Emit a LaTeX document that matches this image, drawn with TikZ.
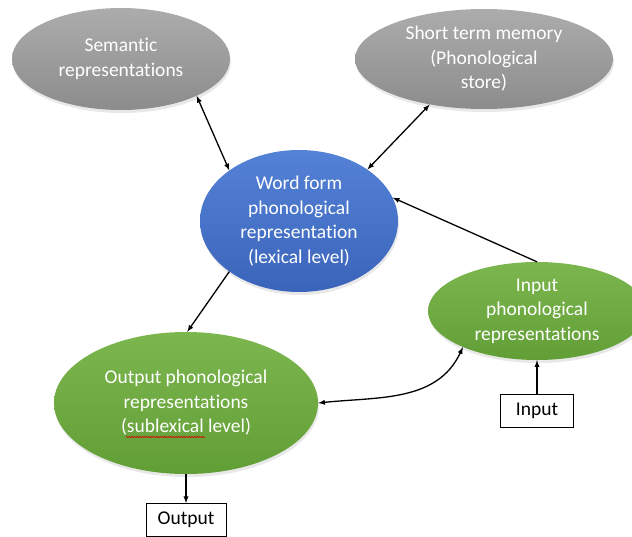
\documentclass[tikz,border=0pt]{standalone}
\usepackage{fontspec}
\setmainfont{Carlito}[Ligatures=NoCommon]
\usetikzlibrary{arrows,shapes.geometric,shadows,decorations.pathmorphing}
\definecolor{el_grey_top}{RGB}{172,172,172}
\definecolor{el_grey_bot}{RGB}{140,140,140}
\definecolor{el_blue_top}{RGB}{84,130,214}
\definecolor{el_blue_bot}{RGB}{58,100,186}
\definecolor{el_green_top}{RGB}{124,182,78}
\definecolor{el_green_bot}{RGB}{98,158,54}
\tikzstyle{el}=[ellipse,inner sep=0pt,align=center,text=white,
  font=\fontsize{19.5}{24.5}\selectfont,
  drop shadow={opacity=0.18,shadow xshift=1pt,shadow yshift=-3pt}]
\tikzstyle{gre}=[el,top color=el_grey_top,bottom color=el_grey_bot]
\tikzstyle{ble}=[el,top color=el_blue_top,bottom color=el_blue_bot]
\tikzstyle{grn}=[el,top color=el_green_top,bottom color=el_green_bot]
\tikzstyle{box}=[rectangle,draw=black,line width=0.8pt,fill=white,
  inner sep=0pt,font=\fontsize{19.5}{24.5}\selectfont]
\tikzstyle{link}=[line width=1.3pt,>=latex]
\tikzstyle{squig}=[red!85!black,line width=0.6pt,decorate,
  decoration={snake,amplitude=0.7pt,segment length=2.6pt}]

\begin{document}
\begin{tikzpicture}[x=1pt,y=-1pt]
    \useasboundingbox (0,0) rectangle (632,536);
    \node [style=gre,minimum width=218pt,minimum height=102pt] (sem) at (121,59) {Semantic\\representations};
    \node [style=gre,minimum width=258pt,minimum height=100pt] (stm) at (484,59) {Short term memory\\(Phonological\\store)};
    \node [style=ble,minimum width=198pt,minimum height=142pt] (word) at (299,221) {Word form\\phonological\\representation\\(lexical level)};
    \node [style=grn,minimum width=218pt,minimum height=98pt] (inp) at (537,311) {Input\\phonological\\representations};
    \node [style=grn,minimum width=264pt,minimum height=142pt] (outp) at (186,403) {Output phonological\\representations\\(sublexical level)};
    \node [style=box,minimum width=73pt,minimum height=33pt] (inbox) at (537,410.5) {Input};
    \node [style=box,minimum width=80pt,minimum height=33pt] (outbox) at (186,520) {Output};
    % spell-check mark under "sublexical"
    \draw [style=squig] ([shift={(-60,34)}]outp.center) to ([shift={(19,34)}]outp.center);
    % arrows
    \draw [style=link,<->] (sem.-26) to (word.144);
    \draw [style=link,<->] (stm.-140) to (word.37);
    \draw [style=link,->] (inp.90) to (word.14);
    \draw [style=link,->] (word.-144) to (outp.89);
    \draw [style=link,<->] (outp.0) to[out=6,in=-115] (inp.-154);
    \draw [style=link,->] (inbox) to (inp);
    \draw [style=link,->] (outp) to (outbox);
\end{tikzpicture}
\end{document}
